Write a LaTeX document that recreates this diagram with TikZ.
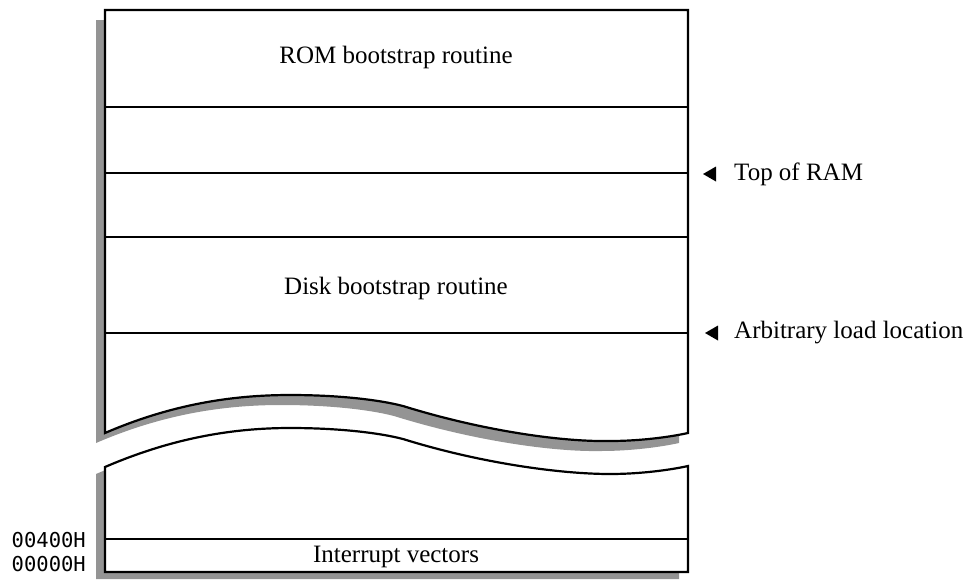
\documentclass[tikz,border=0pt]{standalone}
\usepackage{fontspec}
\setmainfont{Liberation Serif}
\newfontfamily\addrfont{DejaVu Sans Mono}
\begin{document}
\begin{tikzpicture}[x=1pt,y=-1pt,
  outline/.style={draw=black,line width=2.2pt,fill=white,line join=miter},
  shadowfill/.style={fill=black!42},
  sep/.style={draw=black,line width=2.2pt},
  lbl/.style={font=\fontsize{25}{27}\selectfont,inner sep=0pt},
  addr/.style={font=\addrfont\fontsize{20.5}{22}\selectfont,inner sep=0pt,anchor=east},
  tri/.style={fill=black}]
\useasboundingbox (0,0) rectangle (969,579);
% upper piece shadow
\begin{scope}[shift={(-9,10)}]
\fill[shadowfill] (105,10) -- (688,10) -- (688,433)
  .. controls (670,437) and (640,441) .. (610,441)
  .. controls (560,442) and (480,430) .. (403,406)
  .. controls (380,400) and (340,395) .. (290,395)
  .. controls (230,395) and (170,405) .. (105,433) -- cycle;
\end{scope}
% upper piece
\draw[outline] (105,10) -- (688,10) -- (688,433)
  .. controls (670,437) and (640,441) .. (610,441)
  .. controls (560,442) and (480,430) .. (403,406)
  .. controls (380,400) and (340,395) .. (290,395)
  .. controls (230,395) and (170,405) .. (105,433) -- cycle;
% lower piece shadow
\begin{scope}[shift={(-9,7)}]
\fill[shadowfill] (105,467)
  .. controls (170,439) and (230,428) .. (290,428)
  .. controls (340,428) and (380,433) .. (403,439)
  .. controls (480,463) and (560,474) .. (610,474)
  .. controls (640,474) and (670,470) .. (688,466)
  -- (688,572) -- (105,572) -- cycle;
\end{scope}
% lower piece
\draw[outline] (105,467)
  .. controls (170,439) and (230,428) .. (290,428)
  .. controls (340,428) and (380,433) .. (403,439)
  .. controls (480,463) and (560,474) .. (610,474)
  .. controls (640,474) and (670,470) .. (688,466)
  -- (688,572) -- (105,572) -- cycle;
% separators
\coordinate (l1) at (105,107); \coordinate (r1) at (688,107);
\coordinate (l2) at (105,173); \coordinate (r2) at (688,173);
\coordinate (l3) at (105,237); \coordinate (r3) at (688,237);
\coordinate (l4) at (105,333); \coordinate (r4) at (688,333);
\coordinate (l5) at (105,539); \coordinate (r5) at (688,539);
\draw[sep] (l1) -- (r1);
\draw[sep] (l2) -- (r2);
\draw[sep] (l3) -- (r3);
\draw[sep] (l4) -- (r4);
\draw[sep] (l5) -- (r5);
% labels
\node[lbl] (rom) at (396,57) {ROM bootstrap routine};
\node[lbl] (disk) at (396,288) {Disk bootstrap routine};
\node[lbl] (intv) at (396,557) {Interrupt vectors};
% side markers
\fill[tri] (703,174) -- (716,166.5) -- (716,181.5) -- cycle;
\node[lbl,anchor=west] (ram) at (734,174) {Top of RAM};
\fill[tri] (705,333) -- (718,325.5) -- (718,340.5) -- cycle;
\node[lbl,anchor=west] (load) at (734,333) {Arbitrary load location};
% addresses
\node[addr] (a400) at (86,540) {00400H};
\node[addr] (a000) at (86,564) {00000H};
\end{tikzpicture}
\end{document}
